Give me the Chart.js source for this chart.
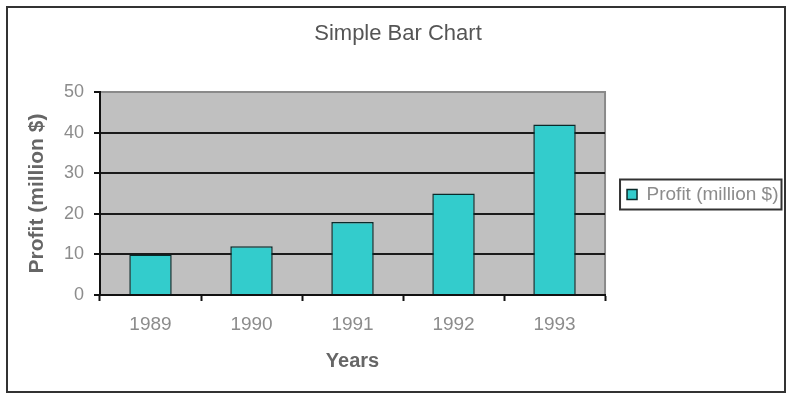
<!DOCTYPE html>
<html>
<head>
<meta charset="utf-8">
<script src="https://cdn.jsdelivr.net/npm/chart.js@4.4.1/dist/chart.umd.min.js"></script>
<style>
  html, body { margin: 0; padding: 0; background: #ffffff; }
  #wrap { width: 800px; height: 401px; }
</style>
</head>
<body>
<div id="wrap"><canvas id="c" width="800" height="401"></canvas></div>
<script>
const years = ['1989', '1990', '1991', '1992', '1993'];
const profit = [10, 12, 18, 25, 42];
const seriesLabel = 'Profit (million $)';
const chartTitle = 'Simple Bar Chart';
const xTitle = 'Years';
const yTitle = 'Profit (million $)';

const FONT = "'Liberation Sans', Arial, sans-serif";

const framePlugin = {
  id: 'frame',
  beforeDraw(chart) {
    const ctx = chart.ctx;
    const a = chart.chartArea;
    ctx.save();
    ctx.fillStyle = '#ffffff';
    ctx.fillRect(0, 0, chart.width, chart.height);
    ctx.strokeStyle = '#333333';
    ctx.lineWidth = 2;
    ctx.strokeRect(7, 7, 778, 385);
    ctx.fillStyle = '#c0c0c0';
    ctx.fillRect(a.left, a.top, a.right - a.left, a.bottom - a.top);
    ctx.strokeStyle = '#8a8a8a';
    ctx.lineWidth = 2;
    ctx.strokeRect(a.left, a.top, a.right - a.left, a.bottom - a.top);
    ctx.restore();
  },
  afterDraw(chart) {
    const lg = chart.legend;
    if (!lg || !lg.legendHitBoxes || !lg.legendHitBoxes.length) return;
    const hb = lg.legendHitBoxes[0];
    const cy = hb.top + hb.height / 2;
    const ctx = chart.ctx;
    ctx.save();
    ctx.strokeStyle = '#333333';
    ctx.lineWidth = 2;
    ctx.strokeRect(hb.left - 7, cy - 15, hb.width + 10, 30);
    ctx.restore();
  }
};

new Chart(document.getElementById('c'), {
  type: 'bar',
  data: {
    labels: years,
    datasets: [{
      label: seriesLabel,
      data: profit,
      backgroundColor: '#33cccc',
      borderColor: '#0a2a2a',
      borderWidth: 1.5,
      barPercentage: 0.42,
      categoryPercentage: 1.0
    }]
  },
  plugins: [framePlugin],
  options: {
    responsive: false,
    animation: false,
    devicePixelRatio: 1,
    layout: { padding: { left: 7.5, right: 11.5, top: 0, bottom: 26 } },
    plugins: {
      title: {
        display: true,
        text: chartTitle,
        color: '#555555',
        font: { family: FONT, size: 22, weight: 'normal' },
        padding: { top: 21, bottom: 44.6 }
      },
      legend: {
        display: true,
        position: 'right',
        title: {
          display: true,
          text: '',
          font: { family: FONT, size: 10 },
          padding: 1
        },
        labels: {
          color: '#8c8c8c',
          font: { family: FONT, size: 19 },
          boxWidth: 10,
          boxHeight: 10,
          padding: 22
        }
      },
      tooltip: { enabled: false }
    },
    scales: {
      x: {
        afterFit(scale) { scale.height = 80; },
        grid: {
          display: true,
          drawOnChartArea: false,
          drawTicks: true,
          tickLength: 6,
          tickColor: '#111111',
          tickWidth: 2,
          offset: true
        },
        border: { display: true, color: '#111111', width: 2 },
        ticks: {
          color: '#8c8c8c',
          font: { family: FONT, size: 19 },
          padding: 12.5
        },
        title: {
          display: true,
          text: xTitle,
          color: '#666666',
          font: { family: FONT, size: 20, weight: 'bold' },
          padding: { top: 4, bottom: 2 }
        }
      },
      y: {
        min: 0,
        max: 50,
        afterFit(scale) { scale.width = 92.5; },
        grid: {
          color(ctx) { return ctx.tick && ctx.tick.value === 50 ? 'rgba(0,0,0,0)' : '#1a1a1a'; },
          lineWidth: 2,
          drawTicks: true,
          tickLength: 6,
          tickColor: '#111111',
          tickWidth: 2
        },
        border: { display: true, color: '#111111', width: 2 },
        ticks: {
          stepSize: 10,
          color: '#8c8c8c',
          font: { family: FONT, size: 18 },
          padding: 10
        },
        title: {
          display: true,
          text: yTitle,
          color: '#666666',
          font: { family: FONT, size: 21, weight: 'bold' },
          padding: { top: 17.5, bottom: 4 }
        }
      }
    }
  }
});
</script>
</body>
</html>
